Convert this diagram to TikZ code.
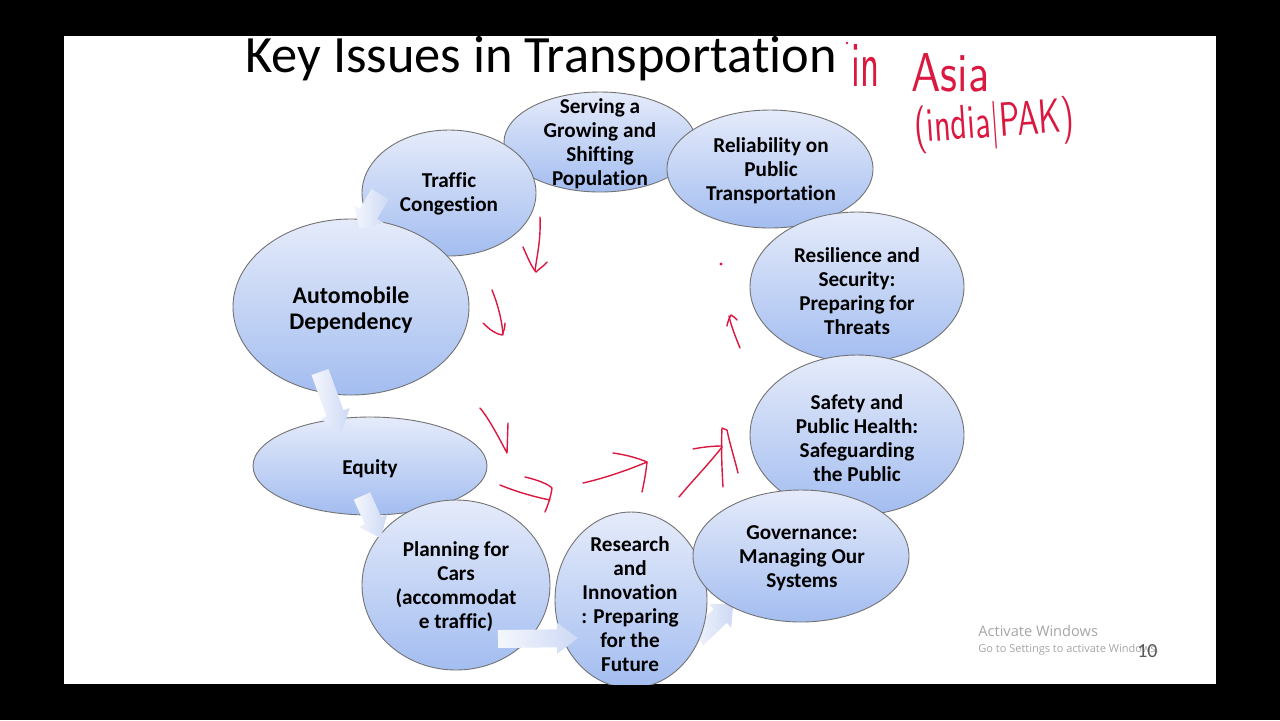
\documentclass[tikz,border=0pt]{standalone}
\usepackage{fontspec}
\usepackage{graphicx}
\setmainfont{Carlito}[Ligatures={NoCommon}]
\newfontfamily\wfont{Open Sans}
\usetikzlibrary{shapes.geometric}
\definecolor{bubtop}{RGB}{229,235,250}
\definecolor{bubbot}{RGB}{163,189,240}
\definecolor{ink}{RGB}{218,24,64}
\definecolor{arrL}{RGB}{245,247,253}
\definecolor{arrR}{RGB}{205,217,244}
\begin{document}
\begin{tikzpicture}[x=0.5pt,y=-0.5pt,
  bub/.style={ellipse, draw=black!55, line width=0.45pt, top color=bubtop, bottom color=bubbot, inner sep=0pt},
  btxt/.style={align=center, font=\bfseries\fontsize{10.6}{12}\selectfont, inner sep=0pt},
  hand/.style={draw=ink, line width=0.7pt, line cap=round, line join=round},
  htxt/.style={text=ink, font=\sffamily, inner sep=0pt},
  pics/barrow/.style n args={4}{code={
    \path[left color=arrL, right color=arrR] (0,-#2) -- (#1-#4,-#2) -- (#1-#4,-#3) -- (#1,0) -- (#1-#4,#3) -- (#1-#4,#2) -- (0,#2) -- cycle;}}]
\fill[black] (0,0) rectangle (1280,720);
\fill[white] (64,36) rectangle (1216,684);
\useasboundingbox (0,0) rectangle (1280,720);
\begin{scope}
\clip (64,36) rectangle (1216,684);
% title
\node[anchor=base west, inner sep=0pt, font=\fontsize{26.2}{30}\selectfont] (title) at (245,72) {Key Issues in Transportation};
% arrow partly hidden under shapes
\pic[rotate=43.5] at (697,638) {barrow={50}{9.5}{16}{18}};
% bubbles
\node[bub, minimum width=96pt, minimum height=50pt] (serve) at (600,142) {};
\node[bub, minimum width=103pt, minimum height=59pt] (rel) at (770,169) {};
\node[bub, minimum width=107pt, minimum height=75pt] (resil) at (857,287) {};
\node[bub, minimum width=107pt, minimum height=80pt] (safe) at (857,435) {};
\node[bub, minimum width=76pt, minimum height=88pt] (res) at (631,600) {};
\node[bub, minimum width=108pt, minimum height=66pt] (gov) at (801,556) {};
\node[bub, minimum width=87pt, minimum height=63pt] (traf) at (449,193) {};
\node[bub, minimum width=118pt, minimum height=88pt] (auto) at (351,307) {};
\node[bub, minimum width=117pt, minimum height=49pt] (eq) at (370,466) {};
\node[bub, minimum width=94pt, minimum height=85pt] (plan) at (456,585) {};
% arrows on top
\pic[rotate=-120] at (380,194) {barrow={40}{10}{17.5}{17}};
\pic[rotate=-70] at (320,372) {barrow={64}{9}{15.5}{20}};
\pic[rotate=-66] at (362,496) {barrow={46}{9}{15.5}{19}};
\pic[rotate=0.7] at (498,639) {barrow={80}{9}{15.5}{21}};
% texts
\node[btxt] (tserve) at (600,144) {Serving a\\Growing and\\Shifting\\Population};
\node[btxt] (trel) at (771,171) {Reliability on\\Public\\Transportation};
\node[btxt] (tresil) at (857,291) {Resilience and\\Security:\\Preparing for\\Threats};
\node[btxt] (tsafe) at (857,438) {Safety and\\Public Health:\\Safeguarding\\the Public};
\node[btxt] (tres) at (630,604) {Research\\and\\Innovation\\: Preparing\\for the\\Future};
\node[btxt] (tgov) at (802,558) {Governance:\\Managing Our\\Systems};
\node[btxt] (ttraf) at (449,194) {Traffic\\Congestion};
\node[btxt, font=\bfseries\fontsize{11.9}{13}\selectfont] (tauto) at (351,310) {Automobile\\Dependency};
\node[btxt] (teq) at (370,469) {Equity};
\node[btxt] (tplan) at (456,587) {Planning for\\Cars\\(accommodat\\e traffic)};
% handwriting
\node[htxt, anchor=base west] (hin) at (851,86) {\resizebox{14pt}{21pt}{in}};
\node[htxt, anchor=base west] (hasia) at (911,91) {\resizebox{39pt}{19pt}{Asia}};
\node[htxt, rotate=4] (hpak) at (994,125) {\resizebox*{80pt}{24pt}{(india|PAK)}};
\draw[hand] (540,217) .. controls (541,240) and (537,255) .. (535,271);
\draw[hand] (523,247) .. controls (528,258) and (531,266) .. (536,272) .. controls (540,268) and (544,266) .. (547,262);
\draw[hand] (492,290) .. controls (498,305) and (502,320) .. (503,335);
\draw[hand] (483,323) .. controls (490,330) and (496,334) .. (502,335) .. controls (504,331) and (505,327) .. (505,323);
\draw[hand] (480,408) .. controls (490,420) and (500,440) .. (507,453) -- (508,423);
\draw[hand] (500,485) .. controls (517,492) and (535,497) .. (550,500);
\draw[hand] (525,477) .. controls (538,480) and (548,484) .. (552,488) .. controls (551,496) and (548,505) .. (545,512);
\draw[hand] (583,483) .. controls (605,478) and (628,470) .. (647,462);
\draw[hand] (613,453) .. controls (628,455) and (640,459) .. (647,462) .. controls (646,472) and (644,483) .. (642,492);
\draw[hand] (679,497) .. controls (693,480) and (708,465) .. (722,447);
\draw[hand] (693,449) .. controls (703,447) and (713,446) .. (722,446);
\draw[hand] (723,487) .. controls (722,470) and (721,450) .. (722,428) -- (727,430) .. controls (730,445) and (735,460) .. (738,473);
\draw[hand] (740,348) .. controls (736,338) and (731,326) .. (729,316);
\draw[hand] (727,326) .. controls (728,321) and (729,318) .. (731,315) .. controls (734,317) and (736,318) .. (737,320);
\fill[ink] (721,264) circle (1.6);
\fill[ink] (847,43) circle (1.3);
% watermark and page number
\node[anchor=base west, inner sep=0pt, text=black!35, font=\wfont\fontsize{7.3}{9}\selectfont] (aw1) at (978,636) {Activate Windows};
\node[anchor=base west, inner sep=0pt, text=black!35, font=\wfont\fontsize{5.5}{7}\selectfont] (aw2) at (978,652) {Go to Settings to activate Windows.};
\node[anchor=base east, inner sep=0pt, text=black!65, font=\fontsize{10}{12}\selectfont] (pg) at (1158,657) {10};
\end{scope}
\end{tikzpicture}
\end{document}
